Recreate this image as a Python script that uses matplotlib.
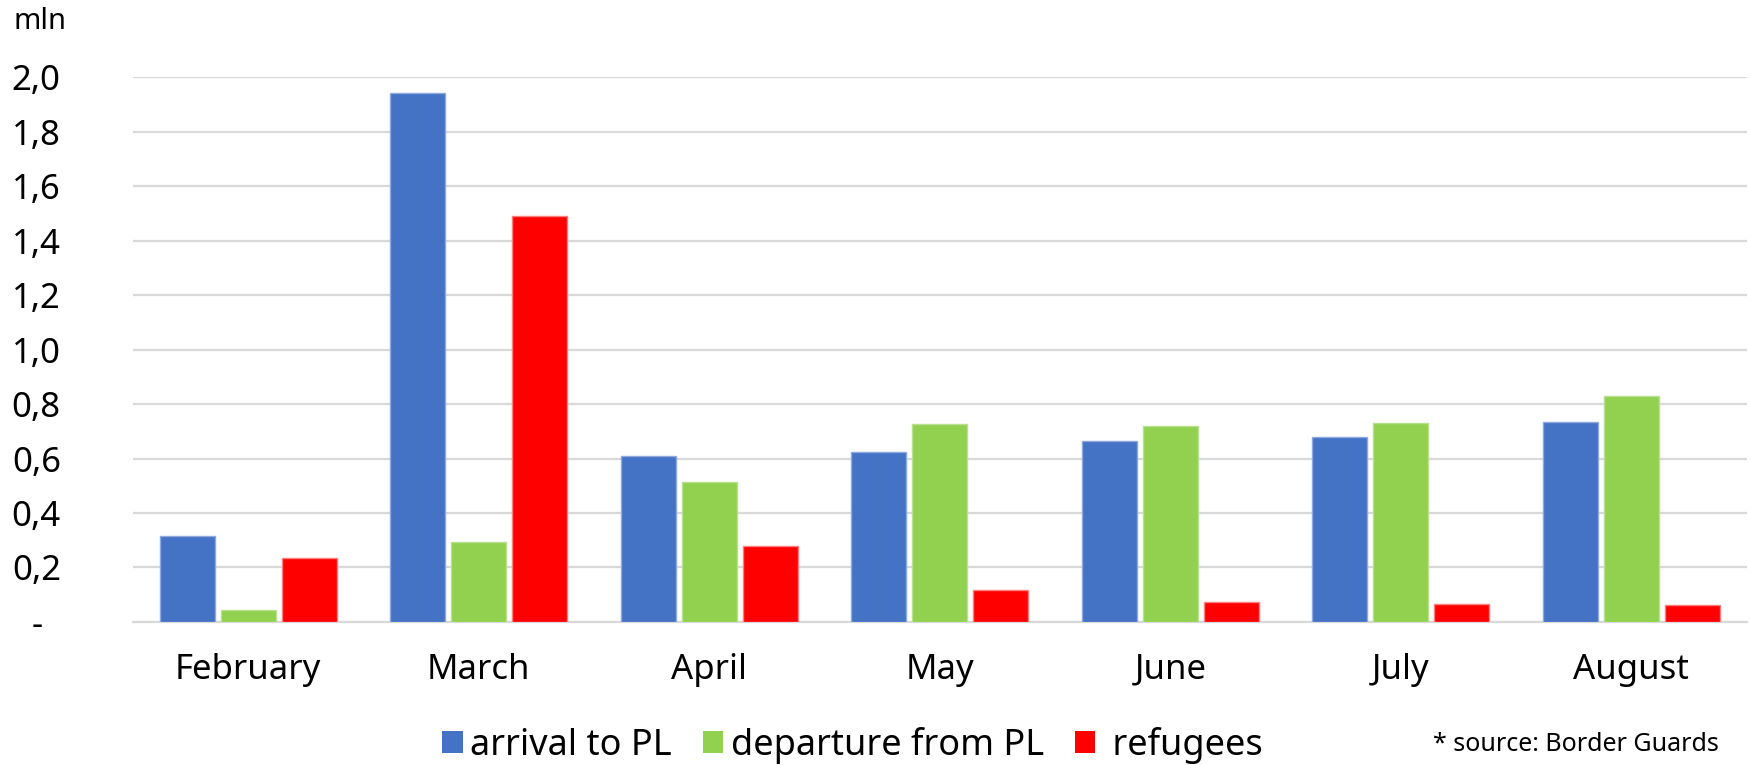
import matplotlib
matplotlib.use("Agg")
import matplotlib.pyplot as plt
from matplotlib.patches import Patch
import numpy as np

months = ["February", "March", "April", "May", "June", "July", "August"]
arrival = [0.317, 1.942, 0.608, 0.625, 0.665, 0.680, 0.735]
departure = [0.045, 0.295, 0.515, 0.725, 0.719, 0.729, 0.830]
refugees = [0.235, 1.490, 0.280, 0.119, 0.073, 0.066, 0.062]
series_names = ["arrival to PL", "departure from PL", " refugees"]
y_ticks = [0.0, 0.2, 0.4, 0.6, 0.8, 1.0, 1.2, 1.4, 1.6, 1.8, 2.0]
y_tick_labels = ["-  ", "0,2", "0,4", "0,6", "0,8", "1,0", "1,2", "1,4", "1,6", "1,8", "2,0"]

colors = ["#4472C4", "#92D050", "#FF0000"]
edges = ["#8EA9DB", "#B8E08F", "#FF7F7F"]

plt.rcParams["font.family"] = ["Noto Sans", "DejaVu Sans"]

fig = plt.figure(figsize=(17.5, 7.65), dpi=100)
ax = fig.add_axes([0.076, 0.187, 0.922, 0.712])

x = np.arange(len(months))
step = 0.2645
width = 0.24
for i, (vals, c, e, name) in enumerate(zip([arrival, departure, refugees], colors, edges, series_names)):
    ax.bar(x + (i - 1) * step, vals, width=width, color=c, edgecolor=e,
           linewidth=1.0, label=name, zorder=3)

ax.set_xlim(-0.5, len(months) - 0.5)
ax.set_ylim(0, 2.0)
ax.set_yticks(y_ticks)
ax.set_yticklabels(y_tick_labels)
ax.set_xticks(x)
ax.set_xticklabels(months)

ax.grid(axis="y", color="#D9D9D9", linewidth=1.6, zorder=0)
ax.set_axisbelow(True)
for side in ["top", "right", "left"]:
    ax.spines[side].set_visible(False)
ax.spines["bottom"].set_color("#D9D9D9")
ax.spines["bottom"].set_linewidth(1.6)
ax.tick_params(axis="y", length=0, labelsize=25, colors="black", pad=52)
ax.tick_params(axis="x", length=0, labelsize=25, colors="black", pad=22)
for lbl in ax.get_yticklabels():
    lbl.set_horizontalalignment("right")

fig.text(0.0075, 0.972, "mln", fontsize=21, ha="left", va="center")

handles = [Patch(facecolor=c, edgecolor="none") for c in colors]
fig.legend(handles, series_names, loc="center", bbox_to_anchor=(0.487, 0.026),
           ncol=3, frameon=False, fontsize=26, handlelength=0.58, handleheight=0.58,
           handletextpad=0.2, columnspacing=0.85, borderaxespad=0, borderpad=0)

fig.text(0.982, 0.027, "* source: Border Guards", fontsize=18, ha="right", va="center")

fig.savefig("out.png", dpi=100)
